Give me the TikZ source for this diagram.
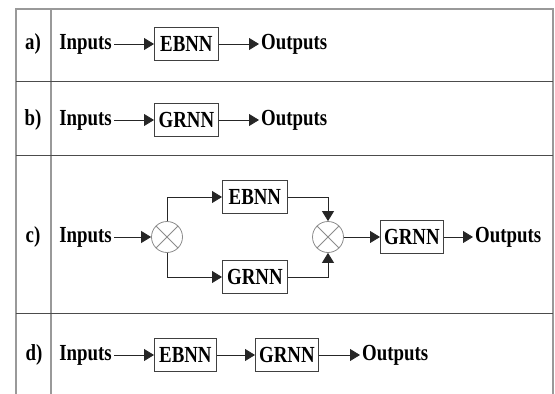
\documentclass[tikz,border=0pt]{standalone}
\usepackage{fontspec}
\setmainfont[FakeStretch=0.82]{Liberation Serif}
\usetikzlibrary{arrows.meta}
\begin{document}
\begin{tikzpicture}[x=1pt,y=-1pt,
	every node/.style={font=\fontsize{23}{25}\selectfont\bfseries, inner sep=2pt},
	net/.style={draw=black!75, line width=0.8pt, minimum width=64pt, minimum height=33pt, inner sep=0pt},
	mix/.style={circle, draw=black!45, line width=0.8pt, minimum size=31pt, inner sep=0pt},
	arr/.style={draw=black!85, line width=0.8pt, -{Triangle[length=10pt,width=12pt]}},
	frame/.style={draw=black!40, line width=1.3pt},
	rule/.style={draw=black!70, line width=1pt}]
	\useasboundingbox (0,0) rectangle (555,394);
	% table
	\draw[frame] (16,394) -- (16,9) -- (553,9) -- (553,394);
	\draw[frame] (51,9) -- (51,394);
	\draw[rule] (16,81) -- (553,81);
	\draw[rule] (16,155) -- (553,155);
	\draw[rule] (16,313) -- (553,313);
	% a)
	\node (la) at (33,44) {a)};
	\node[anchor=east] (ina) at (114,44) {Inputs};
	\node[net, anchor=west] (ebnna) at (154,44) {EBNN};
	\node[anchor=west] (outa) at (259,44) {Outputs};
	\draw[arr] (ina.east) -- (ebnna.west);
	\draw[arr] (ebnna.east) -- (outa.west);
	% b)
	\node (lb) at (33,120) {b)};
	\node[anchor=east] (inb) at (114,120) {Inputs};
	\node[net, anchor=west] (grnnb) at (154,120) {GRNN};
	\node[anchor=west] (outb) at (259,120) {Outputs};
	\draw[arr] (inb.east) -- (grnnb.west);
	\draw[arr] (grnnb.east) -- (outb.west);
	% c)
	\node (lc) at (33,237) {c)};
	\node[anchor=east] (inc) at (114,237) {Inputs};
	\node[mix] (m1) at (167,237) {};
	\node[net, anchor=west, minimum width=65pt] (ebnnc) at (222,197) {EBNN};
	\node[net, anchor=west, minimum width=65pt] (grnnc) at (222,277) {GRNN};
	\node[mix] (m2) at (328,237) {};
	\node[net, anchor=west, minimum width=63pt] (grnnc2) at (380,237) {GRNN};
	\node[anchor=west] (outc) at (473,237) {Outputs};
	\draw[black!45, line width=0.8pt] (m1.45) -- (m1.225) (m1.135) -- (m1.-45);
	\draw[black!45, line width=0.8pt] (m2.45) -- (m2.225) (m2.135) -- (m2.-45);
	\draw[arr] (inc.east) -- (m1.west);
	\draw[arr] (m1.north) |- (ebnnc.west);
	\draw[arr] (m1.south) |- (grnnc.west);
	\draw[arr] (ebnnc.east) -| (m2.north);
	\draw[arr] (grnnc.east) -| (m2.south);
	\draw[arr] (m2.east) -- (grnnc2.west);
	\draw[arr] (grnnc2.east) -- (outc.west);
	% d)
	\node (ld) at (34,355) {d)};
	\node[anchor=east] (ind) at (114,355) {Inputs};
	\node[net, anchor=west, minimum width=62pt] (ebnnd) at (154,355) {EBNN};
	\node[net, anchor=west, minimum width=63pt] (grnnd) at (255,355) {GRNN};
	\node[anchor=west] (outd) at (360,355) {Outputs};
	\draw[arr] (ind.east) -- (ebnnd.west);
	\draw[arr] (ebnnd.east) -- (grnnd.west);
	\draw[arr] (grnnd.east) -- (outd.west);
\end{tikzpicture}
\end{document}
